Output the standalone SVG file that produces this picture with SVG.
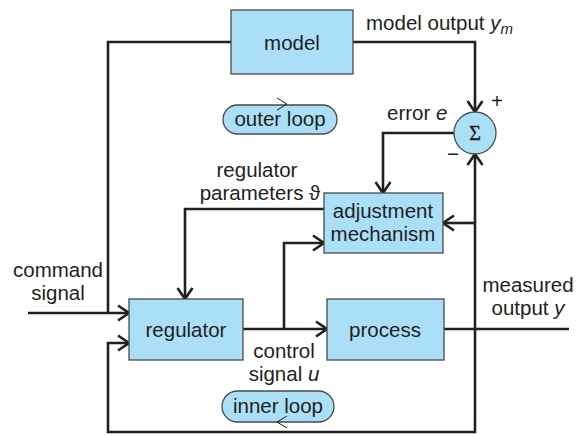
<svg xmlns="http://www.w3.org/2000/svg" width="582" height="435" viewBox="0 0 582 435">
<defs>
<marker id="arr" markerUnits="userSpaceOnUse" markerWidth="18" markerHeight="18" viewBox="0 0 18 18" refX="16" refY="9" orient="auto">
<path d="M5,1.5 L16,9 L5,16.5" fill="none" stroke="#231f20" stroke-width="2.6"/>
</marker>
<style>
.box{fill:#aadff7;stroke:#4a4a4a;stroke-width:1.3}
.ln{fill:none;stroke:#231f20;stroke-width:2.6;stroke-linejoin:miter}
.t{font-family:"Liberation Sans",Arial,sans-serif;font-size:20.5px;fill:#231f20}
.c{text-anchor:middle}
.i{font-style:italic}
</style>
</defs>
<rect width="582" height="435" fill="#ffffff"/>
<g id="connectors">
<path class="ln" d="M28,313 H129" marker-end="url(#arr)"/>
<path class="ln" d="M108,313 V42 H231"/>
<path class="ln" d="M353,42 H475 V112" marker-end="url(#arr)"/>
<path class="ln" d="M454,133 H383 V193" marker-end="url(#arr)"/>
<path class="ln" d="M475,329 V154" marker-end="url(#arr)"/>
<path class="ln" d="M475,223 H443" marker-end="url(#arr)"/>
<path class="ln" d="M284,329 V243 H324" marker-end="url(#arr)"/>
<path class="ln" d="M324,209 H185 V299" marker-end="url(#arr)"/>
<path class="ln" d="M243,329 H327" marker-end="url(#arr)"/>
<path class="ln" d="M444,329 H569"/>
<path class="ln" d="M475,329 V432 H108 V343 H129" marker-end="url(#arr)"/>
</g>
<g id="model">
<rect class="box" x="231" y="10" width="122" height="64"/>
<text class="t c" x="292" y="50">model</text>
</g>
<g id="sum">
<circle cx="475" cy="133" r="21" class="box"/>
<text x="475" y="140" text-anchor="middle" font-family="Liberation Serif,Times New Roman,serif" font-size="20" fill="#231f20" stroke="#231f20" stroke-width="0.4">Σ</text>
<text class="t" x="491" y="108" font-size="17">+</text>
<text class="t" x="447" y="161" font-size="17">−</text>
</g>
<g id="adjustment">
<rect class="box" x="324" y="193" width="119" height="60"/>
<text class="t c" x="383" y="218">adjustment</text>
<text class="t c" x="383" y="241">mechanism</text>
</g>
<g id="regulator">
<rect class="box" x="129" y="299" width="114" height="61"/>
<text class="t c" x="186" y="337">regulator</text>
</g>
<g id="process">
<rect class="box" x="327" y="299" width="117" height="61"/>
<text class="t c" x="385" y="337">process</text>
</g>
<g id="outer-loop">
<rect class="box" x="223" y="105" width="114" height="29" rx="14.5"/>
<text class="t c" x="280" y="126">outer loop</text>
<path d="M277,98 L287,104 L277,110" fill="none" stroke="#231f20" stroke-width="1"/>
</g>
<g id="inner-loop">
<rect class="box" x="222" y="391" width="112" height="31" rx="15.5"/>
<text class="t c" x="278" y="413">inner loop</text>
<path d="M287,416 L277,422 L287,428" fill="none" stroke="#231f20" stroke-width="1"/>
</g>
<g id="labels">
<text class="t" x="366" y="30">model output <tspan class="i">y</tspan><tspan class="i" font-size="15" dy="4">m</tspan></text>
<text class="t" x="387" y="120">error <tspan class="i">e</tspan></text>
<text class="t c" x="257" y="177">regulator</text>
<text class="t c" x="260" y="200">parameters ϑ</text>
<text class="t c" x="58" y="277">command</text>
<text class="t c" x="58" y="300">signal</text>
<text class="t c" x="528" y="292">measured</text>
<text class="t c" x="528" y="315">output <tspan class="i">y</tspan></text>
<text class="t c" x="284" y="358">control</text>
<text class="t c" x="284" y="381">signal <tspan class="i">u</tspan></text>
</g>
</svg>
